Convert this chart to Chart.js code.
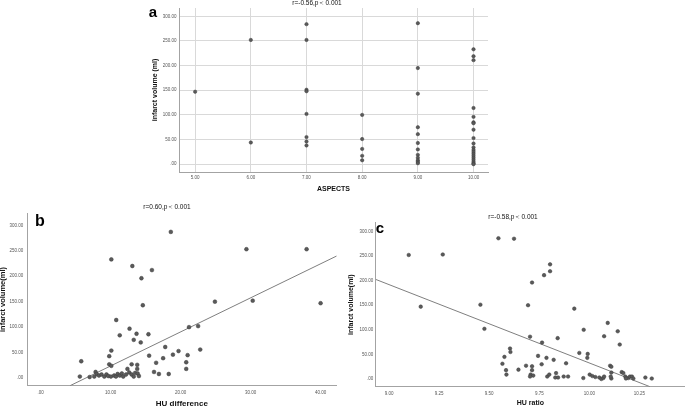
<!DOCTYPE html>
<html>
<head>
<meta charset="utf-8">
<script src="https://cdn.jsdelivr.net/npm/chart.js@4.4.0/dist/chart.umd.min.js"></script>
<style>
html, body { margin: 0; padding: 0; background: #fff; }
body { position: relative; width: 685px; height: 407px; overflow: hidden; font-family: "Liberation Sans", Arial, sans-serif; }
canvas { position: absolute; }
.lbl { position: absolute; transform: translate(-50%, -50%); white-space: nowrap; line-height: 1; color: #000; }
.letter { font-weight: bold; }
.stat { font-size: 6.5px; color: #111; }
</style>
</head>
<body>
<canvas id="chart-a" width="420" height="200" style="left:130px;top:0"></canvas>
<canvas id="chart-b" width="350" height="212" style="left:-5px;top:200px"></canvas>
<canvas id="chart-c" width="345" height="212" style="left:340px;top:200px"></canvas>

<div class="lbl letter" style="left:153px;top:11px;font-size:15px">a</div>
<div class="lbl stat" style="left:317px;top:3px">r=-0.56,p＜0.001</div>
<div class="lbl letter" style="left:40px;top:221px;font-size:16px">b</div>
<div class="lbl stat" style="left:167px;top:207px">r=0.60,p＜0.001</div>
<div class="lbl letter" style="left:380px;top:227px;font-size:15px">c</div>
<div class="lbl stat" style="left:513px;top:217px">r=-0.58,p＜0.001</div>

<script>
// panel a: infarct volume by ASPECTS score
const aspectsScores = [5, 6, 7, 8, 9, 10];
const volumeAt5 = [147];
const volumeAt6 = [252, 44];
const volumeAt7 = [284, 252, 151, 148, 102, 55, 46, 38];
const volumeAt8 = [100, 51, 31, 17, 8];
const volumeAt9 = [286, 195, 143, 75, 61, 43, 30, 19, 13, 8, 5, 2];
const volumeAt10 = [233, 219, 211, 114, 96, 85, 83, 70, 53, 42, 34, 29, 25, 21, 17, 13, 9, 5, 2, 0];
const aspectsTicks = [5, 6, 7, 8, 9, 10];
const volumeTicks = [0, 50, 100, 150, 200, 250, 300];

// panel b: HU difference vs infarct volume
const huDiff = [18.6, 10.1, 13.1, 15.9, 14.4, 29.4, 38.0, 14.6, 24.9, 30.3, 40.0, 10.8, 12.7, 11.3, 13.7,
    13.3, 15.4, 14.3, 21.2, 22.5, 22.8, 10.1, 9.8, 5.8, 15.5, 17.8, 19.7, 18.9, 17.5, 16.5,
    21.0, 20.8, 20.8, 16.2, 16.9, 18.3, 9.8, 10.1, 5.6, 7.0,
    7.85, 8.0, 7.66, 8.33, 8.7, 9.1, 9.4, 9.66, 10.04, 10.5, 10.76, 11.0, 11.3, 11.6, 11.8,
    12.2, 12.4, 12.65, 13.0, 13.0, 13.3, 13.5, 13.8, 13.8, 13.86, 14.04];
const huDiffVolume = [287, 233, 220, 212, 196, 253, 253, 143, 150, 152, 147, 114, 97, 84, 87,
    75, 86, 70, 100, 102, 56, 54, 43, 33, 44, 61, 53, 46, 39, 30,
    45, 31, 18, 12, 8, 8, 27, 24, 3, 2,
    12, 8, 3, 5, 7, 3, 7, 4, 3, 5, 3, 8, 5, 9, 3,
    7, 18, 11, 27, 7, 3, 10, 26, 18, 9, 4];
const huDiffFitX = [4.2, 42.3];
const huDiffFitY = [-15, 239.7];
const huDiffTicks = [0, 10, 20, 30, 40];

// panel c: HU ratio vs infarct volume
const huRatio = [9.098, 9.268, 9.158, 9.546, 9.624, 9.456, 9.476, 9.804, 9.804, 9.774, 9.714, 9.694,
    9.925, 9.972, 10.092, 10.142, 10.074, 10.152, 9.704, 9.764, 9.842, 9.95, 9.992, 9.99,
    9.604, 9.606, 9.576, 9.566, 9.584, 9.586, 9.646, 9.684, 9.714, 9.714, 9.744, 9.762,
    9.786, 9.822, 9.884, 9.707, 9.72, 9.704, 9.79, 9.80, 9.834, 9.83, 9.844, 9.872,
    9.894, 9.97, 10.002, 10.015, 10.03, 10.05, 10.06, 10.07, 10.074, 10.104, 10.11, 10.11,
    10.11, 10.107, 10.162, 10.17, 10.18, 10.195, 10.203, 10.213, 10.22, 10.183, 10.28, 10.312];
const huRatioVolume = [252, 253, 147, 286, 285, 151, 102, 233, 219, 211, 196, 150,
    143, 100, 114, 97, 87, 70, 86, 74, 83, 53, 51, 43,
    62, 55, 45, 31, 18, 9, 19, 27, 26, 18, 47, 30,
    43, 39, 32, 9, 7, 5, 5, 9, 12, 3, 3, 5,
    5, 2, 9, 6, 4, 3, 0, 2, 5, 27, 25, 13,
    1, 5, 14, 12, 5, 2, 5, 5, 1, 1, 3, 1];
const huRatioFitX = [8.933, 10.303];
const huRatioFitY = [202.4, -15.6];
const huRatioTicks = [9.0, 9.25, 9.5, 9.75, 10.0, 10.25];

Chart.defaults.font.family = '"Liberation Sans", Arial, sans-serif';
Chart.defaults.color = '#444';

const pointFill = '#5a5a5a';
const pointEdge = '#3c3c3c';
const axisColor = '#a3a3a3';

function twoDecimals(v) {
    return v === 0 ? '.00' : v.toFixed(2);
}

function pairs(xs, ys) {
    return xs.map((x, i) => ({ x: x, y: ys[i] }));
}

function makeAxis(opts) {
    return {
        type: 'linear',
        min: opts.min,
        max: opts.max,
        afterBuildTicks: (axis) => { axis.ticks = opts.ticks.map(v => ({ value: v })); },
        afterFit: (axis) => {
            if (opts.horizontal) axis.height = opts.size;
            else axis.width = opts.size;
        },
        grid: { display: !!opts.grid, color: '#d9d9d9', lineWidth: 1, drawTicks: false },
        border: { display: true, color: axisColor, width: 1 },
        ticks: {
            autoSkip: false, maxRotation: 0, minRotation: 0,
            padding: opts.tickPad,
            font: { size: 4.5 },
            color: '#555',
            callback: (v) => twoDecimals(v)
        },
        title: {
            display: true,
            text: opts.title,
            color: '#111',
            font: { size: opts.titleSize, weight: 'bold' },
            padding: opts.titlePad
        }
    };
}

function scatterSet(points, radius) {
    return {
        type: 'scatter',
        data: points,
        backgroundColor: pointFill,
        borderColor: pointEdge,
        borderWidth: 0.5,
        pointRadius: radius
    };
}

function fitLine(xs, ys) {
    return {
        type: 'line',
        data: pairs(xs, ys),
        borderColor: '#7f7f7f',
        borderWidth: 1,
        pointRadius: 0,
        fill: false,
        order: 2
    };
}

function baseOptions(padding, xAxis, yAxis) {
    return {
        responsive: false,
        animation: false,
        events: [],
        layout: { autoPadding: false, padding: padding },
        plugins: { legend: { display: false }, tooltip: { enabled: false } },
        scales: { x: xAxis, y: yAxis }
    };
}

// panel a
const aspectsPoints = [];
[volumeAt5, volumeAt6, volumeAt7, volumeAt8, volumeAt9, volumeAt10].forEach((vols, i) => {
    vols.forEach(v => aspectsPoints.push({ x: aspectsScores[i], y: v }));
});

new Chart(document.getElementById('chart-a'), {
    type: 'scatter',
    data: { datasets: [scatterSet(aspectsPoints, 1.7)] },
    options: baseOptions(
        { left: 0, right: 62, top: 8, bottom: 0 },
        makeAxis({ horizontal: true, size: 28, min: 4.71, max: 10.26, ticks: aspectsTicks, grid: true,
            tickPad: 3, title: 'ASPECTS', titleSize: 7, titlePad: { top: 0, bottom: 6.5 } }),
        makeAxis({ horizontal: false, size: 49, min: -15.8, max: 316.8, ticks: volumeTicks, grid: true,
            tickPad: 2.5, title: 'infarct volume (ml)', titleSize: 7, titlePad: { top: 20.8, bottom: 0 } })
    )
});

// panel b
new Chart(document.getElementById('chart-b'), {
    type: 'scatter',
    data: { datasets: [scatterSet(pairs(huDiff, huDiffVolume), 1.9), fitLine(huDiffFitX, huDiffFitY)] },
    options: baseOptions(
        { left: 0, right: 8.3, top: 13.3, bottom: 0 },
        makeAxis({ horizontal: true, size: 26.3, min: -1.95, max: 42.3, ticks: huDiffTicks, grid: false,
            tickPad: 3.9, title: 'HU difference', titleSize: 8, titlePad: { top: 0, bottom: 3.2 } }),
        makeAxis({ horizontal: false, size: 32, min: -15, max: 323.5, ticks: volumeTicks, grid: false,
            tickPad: 3.7, title: 'infarct volume(ml)', titleSize: 7.5, titlePad: { top: 3.2, bottom: 0 } })
    )
});

// panel c
new Chart(document.getElementById('chart-c'), {
    type: 'scatter',
    data: { datasets: [scatterSet(pairs(huRatio, huRatioVolume), 1.8), fitLine(huRatioFitX, huRatioFitY)] },
    options: baseOptions(
        { left: 0, right: 0, top: 22.7, bottom: 0 },
        makeAxis({ horizontal: true, size: 25.3, min: 8.933, max: 10.478, ticks: huRatioTicks, grid: false,
            tickPad: 3.9, title: 'HU ratio', titleSize: 7, titlePad: { top: 0, bottom: 4.5 } }),
        makeAxis({ horizontal: false, size: 35.7, min: -15.6, max: 317.6, ticks: volumeTicks, grid: false,
            tickPad: 2.4, title: 'infarct volume(ml)', titleSize: 7, titlePad: { top: 6.5, bottom: 0 } })
    )
});
</script>
</body>
</html>
